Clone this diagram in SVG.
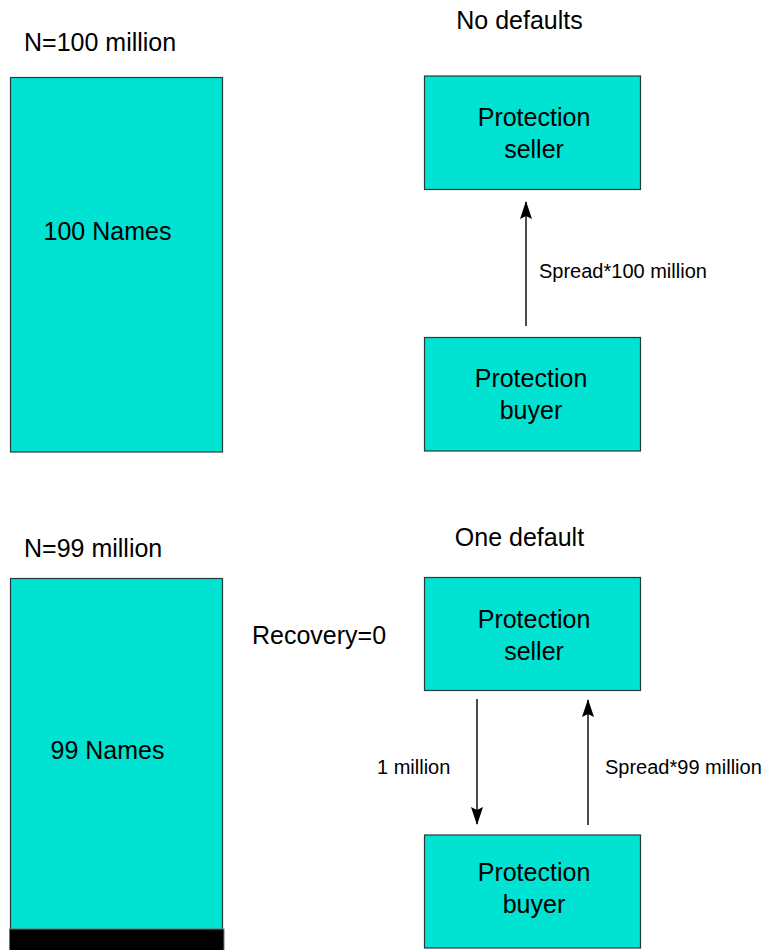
<svg xmlns="http://www.w3.org/2000/svg" width="769" height="950" viewBox="0 0 769 950">
<style>
text{font-family:"Liberation Sans",Arial,sans-serif;fill:#000}
.t25{font-size:25px}
.t20{font-size:20px}
.mid{text-anchor:middle}
.box{fill:#00E2D2;stroke:#263b3a;stroke-width:1.2}
.con{stroke:#000;stroke-width:1.4;fill:none;marker-end:url(#ah)}
</style>
<defs>
<marker id="ah" viewBox="0 0 18 12" refX="17" refY="6" markerWidth="18" markerHeight="12" markerUnits="userSpaceOnUse" orient="auto">
<path d="M0,0 L18,6 L0,12 L3,6 Z" fill="#000"/>
</marker>
</defs>
<rect width="769" height="950" fill="#fff"/>
<text class="t25" x="24" y="51">N=100 million</text>
<text class="t25 mid" x="519.5" y="29">No defaults</text>
<text class="t25" x="24" y="557">N=99 million</text>
<text class="t25 mid" x="519.5" y="546">One default</text>
<text class="t25" x="252" y="644">Recovery=0</text>
<g id="names100">
<rect class="box" x="10.5" y="77.5" width="212" height="374.5"/>
<text class="t25 mid" x="107.5" y="240">100 Names</text>
</g>
<g id="names99">
<rect class="box" x="10.5" y="578.5" width="212" height="351"/>
<rect x="9.5" y="929" width="214.5" height="22" fill="#000" stroke="#777" stroke-width="1"/>
<text class="t25 mid" x="107.5" y="759">99 Names</text>
</g>
<g id="seller1">
<rect class="box" x="424.5" y="76" width="216" height="113.5"/>
<text class="t25 mid" x="534" y="126">Protection</text>
<text class="t25 mid" x="534" y="158">seller</text>
</g>
<g id="buyer1">
<rect class="box" x="424.5" y="337.5" width="216" height="113.5"/>
<text class="t25 mid" x="531" y="387">Protection</text>
<text class="t25 mid" x="531" y="419">buyer</text>
</g>
<g id="seller2">
<rect class="box" x="424.5" y="577.5" width="216" height="113"/>
<text class="t25 mid" x="534" y="628">Protection</text>
<text class="t25 mid" x="534" y="660">seller</text>
</g>
<g id="buyer2">
<rect class="box" x="424.5" y="835" width="216" height="113"/>
<text class="t25 mid" x="534" y="881">Protection</text>
<text class="t25 mid" x="534" y="913">buyer</text>
</g>
<g id="connectors">
<line class="con" x1="526" y1="326" x2="526" y2="202"/>
<text class="t20" x="539" y="278">Spread*100 million</text>
<line class="con" x1="477" y1="699" x2="477" y2="824"/>
<text class="t20" x="377" y="774">1 million</text>
<line class="con" x1="588" y1="825" x2="588" y2="700"/>
<text class="t20" x="605" y="774">Spread*99 million</text>
</g>
</svg>
